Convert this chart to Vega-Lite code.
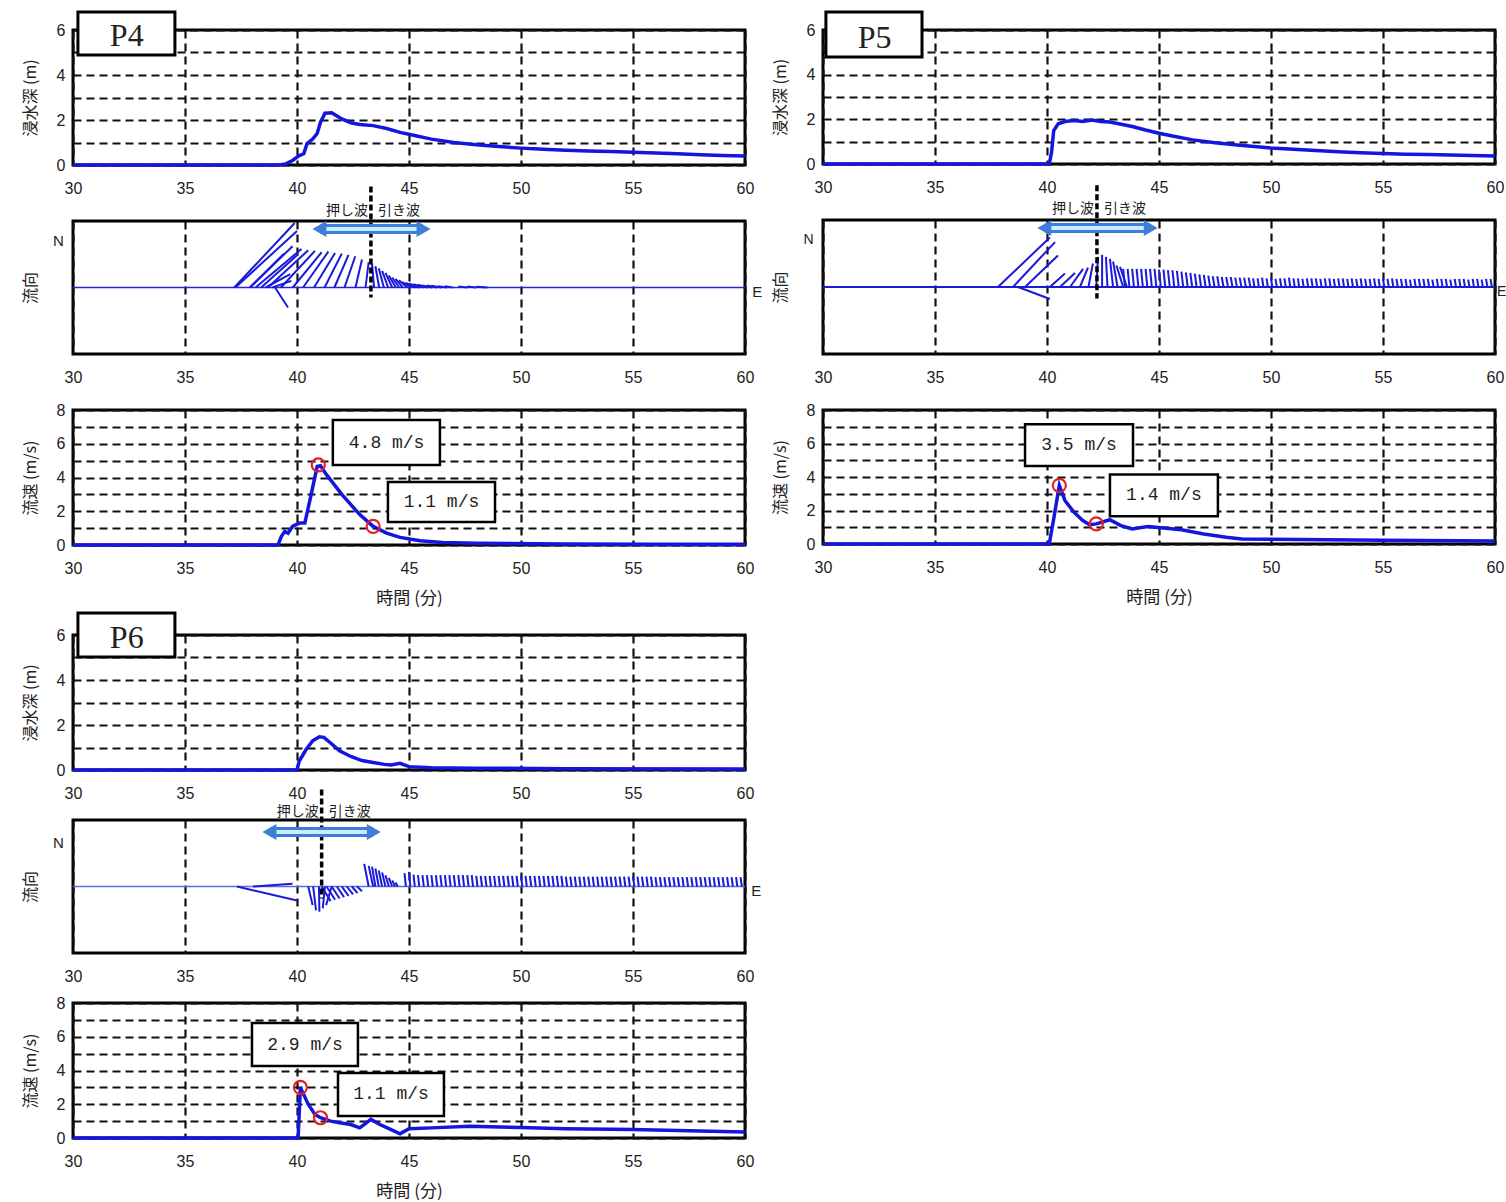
{
"$schema": "https://vega.github.io/schema/vega-lite/v6.json",
"background": "white",
"padding": {"left": 20, "top": 8, "right": 0, "bottom": 0},
"config": {
  "view": {"stroke": "black", "strokeWidth": 3},
  "axis": {"labelFont": "Liberation Sans", "labelFontSize": 16, "labelColor": "#222", "titleFont": "Noto Sans CJK JP", "titleFontSize": 16, "titleFontWeight": "normal", "titleColor": "#222", "domain": false, "ticks": false, "gridColor": "#111", "gridOpacity": 1},
  "axisX": {"labelFlush": false}
},
"datasets": {
  "depth4": [{"t":30,"y":0},{"t":39.2,"y":0},{"t":39.5,"y":0.05},{"t":39.8,"y":0.2},{"t":40.1,"y":0.42},{"t":40.3,"y":0.5},{"t":40.45,"y":0.95},{"t":40.7,"y":1.15},{"t":40.9,"y":1.4},{"t":41.05,"y":1.9},{"t":41.25,"y":2.3},{"t":41.55,"y":2.32},{"t":41.75,"y":2.2},{"t":42.0,"y":2.05},{"t":42.4,"y":1.88},{"t":42.8,"y":1.8},{"t":43.4,"y":1.75},{"t":44.0,"y":1.62},{"t":44.6,"y":1.45},{"t":45.2,"y":1.32},{"t":46,"y":1.15},{"t":47,"y":1.0},{"t":48,"y":0.9},{"t":49,"y":0.82},{"t":50,"y":0.75},{"t":51,"y":0.7},{"t":52,"y":0.66},{"t":53,"y":0.62},{"t":54,"y":0.6},{"t":55,"y":0.57},{"t":56,"y":0.53},{"t":57,"y":0.5},{"t":58,"y":0.46},{"t":59,"y":0.42},{"t":60,"y":0.4}],
  "depth5": [{"t":30,"y":0},{"t":40.1,"y":0},{"t":40.2,"y":0.5},{"t":40.3,"y":1.5},{"t":40.5,"y":1.8},{"t":40.8,"y":1.9},{"t":41.2,"y":1.95},{"t":41.6,"y":1.9},{"t":42.0,"y":1.97},{"t":42.4,"y":1.9},{"t":42.8,"y":1.88},{"t":43.2,"y":1.8},{"t":43.8,"y":1.68},{"t":44.4,"y":1.52},{"t":45,"y":1.38},{"t":45.6,"y":1.25},{"t":46.5,"y":1.08},{"t":47.5,"y":0.95},{"t":48.5,"y":0.85},{"t":50,"y":0.72},{"t":51,"y":0.66},{"t":52,"y":0.6},{"t":53,"y":0.55},{"t":54,"y":0.5},{"t":55,"y":0.47},{"t":56,"y":0.44},{"t":57,"y":0.42},{"t":58,"y":0.4},{"t":59,"y":0.38},{"t":60,"y":0.36}],
  "depth6": [{"t":30,"y":0},{"t":40.0,"y":0},{"t":40.1,"y":0.4},{"t":40.4,"y":0.9},{"t":40.7,"y":1.3},{"t":41.0,"y":1.48},{"t":41.2,"y":1.45},{"t":41.5,"y":1.2},{"t":41.9,"y":0.85},{"t":42.4,"y":0.6},{"t":42.9,"y":0.42},{"t":43.4,"y":0.33},{"t":43.9,"y":0.25},{"t":44.2,"y":0.22},{"t":44.6,"y":0.3},{"t":45.0,"y":0.15},{"t":46,"y":0.1},{"t":48,"y":0.08},{"t":52,"y":0.06},{"t":60,"y":0.05}],
  "sp4": [{"t":30,"y":0},{"t":39.15,"y":0},{"t":39.3,"y":0.5},{"t":39.45,"y":0.8},{"t":39.6,"y":0.7},{"t":39.8,"y":1.1},{"t":40.1,"y":1.3},{"t":40.35,"y":1.3},{"t":40.6,"y":2.8},{"t":40.9,"y":4.65},{"t":41.05,"y":4.7},{"t":41.3,"y":4.2},{"t":42.0,"y":3.0},{"t":42.8,"y":1.8},{"t":43.4,"y":1.1},{"t":44.0,"y":0.7},{"t":44.6,"y":0.45},{"t":45.5,"y":0.25},{"t":46.5,"y":0.15},{"t":48,"y":0.1},{"t":52,"y":0.06},{"t":56,"y":0.05},{"t":60,"y":0.05}],
  "sp5": [{"t":30,"y":0},{"t":40.1,"y":0},{"t":40.3,"y":1.5},{"t":40.55,"y":3.5},{"t":40.8,"y":2.6},{"t":41.2,"y":1.9},{"t":41.6,"y":1.4},{"t":41.9,"y":1.15},{"t":42.2,"y":1.2},{"t":42.8,"y":1.45},{"t":43.3,"y":1.1},{"t":43.8,"y":0.9},{"t":44.5,"y":1.05},{"t":45.2,"y":0.95},{"t":46,"y":0.85},{"t":47,"y":0.6},{"t":48,"y":0.4},{"t":48.7,"y":0.3},{"t":50,"y":0.28},{"t":55,"y":0.22},{"t":60,"y":0.18}],
  "sp6": [{"t":30,"y":0},{"t":40.05,"y":0},{"t":40.15,"y":3.0},{"t":40.5,"y":2.0},{"t":40.8,"y":1.4},{"t":41.05,"y":1.2},{"t":41.5,"y":1.0},{"t":41.9,"y":0.9},{"t":42.4,"y":0.8},{"t":42.8,"y":0.6},{"t":43.3,"y":1.1},{"t":43.7,"y":0.8},{"t":44.2,"y":0.5},{"t":44.6,"y":0.25},{"t":45.0,"y":0.55},{"t":46,"y":0.6},{"t":47.7,"y":0.7},{"t":50,"y":0.62},{"t":52,"y":0.55},{"t":55,"y":0.5},{"t":58,"y":0.42},{"t":60,"y":0.35}],
  "vec4": [{"t":39.42,"e":37.9,"v":0.51},{"t":39.6,"e":39.02,"v":-0.3},{"t":39.7,"e":38.6,"v":0.2},{"t":39.75,"e":38.9,"v":0.1},{"t":39.8,"e":37.9,"v":0.62},{"t":39.9,"e":37.2,"v":0.97},{"t":40.0,"e":37.25,"v":0.85},{"t":40.05,"e":38.4,"v":0.5},{"t":40.2,"e":38.15,"v":0.58},{"t":40.5,"e":38.7,"v":0.56},{"t":40.8,"e":39.28,"v":0.55},{"t":41.1,"e":39.81,"v":0.53},{"t":41.4,"e":40.27,"v":0.54},{"t":41.7,"e":40.76,"v":0.52},{"t":42.0,"e":41.23,"v":0.51},{"t":42.3,"e":41.67,"v":0.49},{"t":42.6,"e":42.12,"v":0.47},{"t":42.9,"e":42.61,"v":0.42},{"t":43.2,"e":43.06,"v":0.38},{"t":43.35,"e":43.44,"v":0.36},{"t":43.5,"e":43.67,"v":0.32},{"t":43.65,"e":43.88,"v":0.29},{"t":43.8,"e":44.07,"v":0.25},{"t":43.95,"e":44.25,"v":0.22},{"t":44.1,"e":44.41,"v":0.18},{"t":44.25,"e":44.56,"v":0.15},{"t":44.4,"e":44.72,"v":0.13},{"t":44.55,"e":44.93,"v":0.11},{"t":44.7,"e":45.12,"v":0.08},{"t":44.85,"e":45.3,"v":0.07},{"t":45.0,"e":45.46,"v":0.06},{"t":45.2,"e":45.65,"v":0.05},{"t":45.4,"e":45.85,"v":0.04},{"t":45.6,"e":46.04,"v":0.03},{"t":45.8,"e":46.25,"v":0.03},{"t":46.0,"e":46.44,"v":0.026},{"t":46.3,"e":46.7,"v":0.02},{"t":46.6,"e":46.95,"v":0.02},{"t":47.2,"e":47.6,"v":0.015},{"t":47.6,"e":48.0,"v":0.015},{"t":48.0,"e":48.5,"v":0.01}],
  "vec5": [{"t":40.13,"e":38.71,"v":-0.18},{"t":40.13,"e":37.81,"v":0.74},{"t":40.36,"e":38.48,"v":0.67},{"t":40.49,"e":39.02,"v":0.47},{"t":40.8,"e":40.13,"v":0.2},{"t":41.25,"e":40.58,"v":0.21},{"t":41.61,"e":41.03,"v":0.27},{"t":41.83,"e":41.47,"v":0.29},{"t":42.05,"e":41.85,"v":0.35},{"t":42.28,"e":42.2,"v":0.45},{"t":42.46,"e":42.46,"v":0.48},{"t":42.63,"e":42.7,"v":0.45},{"t":42.81,"e":42.95,"v":0.42},{"t":42.95,"e":43.15,"v":0.38},{"t":43.1,"e":43.4,"v":0.32},{"t":43.26,"e":43.57,"v":0.3},
    {"t":43.4,"e":43.48,"v":0.27},{"t":43.6,"e":43.68,"v":0.27},{"t":43.8,"e":43.88,"v":0.27},{"t":44.0,"e":44.08,"v":0.27},{"t":44.2,"e":44.28,"v":0.27},{"t":44.4,"e":44.48,"v":0.27},{"t":44.6,"e":44.68,"v":0.27},{"t":44.8,"e":44.88,"v":0.27},{"t":45.0,"e":45.08,"v":0.26},{"t":45.2,"e":45.28,"v":0.26},{"t":45.4,"e":45.48,"v":0.25},{"t":45.6,"e":45.68,"v":0.25},{"t":45.8,"e":45.88,"v":0.24},{"t":46.0,"e":46.08,"v":0.23},{"t":46.2,"e":46.28,"v":0.22},{"t":46.4,"e":46.48,"v":0.21},{"t":46.6,"e":46.68,"v":0.2},{"t":46.8,"e":46.88,"v":0.19},{"t":47.0,"e":47.08,"v":0.18},{"t":47.2,"e":47.28,"v":0.17},{"t":47.4,"e":47.48,"v":0.16},{"t":47.6,"e":47.68,"v":0.16},{"t":47.8,"e":47.88,"v":0.15},{"t":48.0,"e":48.08,"v":0.15},{"t":48.2,"e":48.28,"v":0.15},{"t":48.4,"e":48.48,"v":0.14},{"t":48.6,"e":48.68,"v":0.14},{"t":48.8,"e":48.88,"v":0.14},{"t":49.0,"e":49.08,"v":0.14},
    {"t":49.2,"e":49.26,"v":0.13},{"t":49.4,"e":49.46,"v":0.13},{"t":49.6,"e":49.66,"v":0.14},{"t":49.8,"e":49.86,"v":0.13},{"t":50.0,"e":50.06,"v":0.13},{"t":50.2,"e":50.26,"v":0.12},{"t":50.4,"e":50.46,"v":0.13},{"t":50.6,"e":50.66,"v":0.13},{"t":50.8,"e":50.86,"v":0.14},{"t":51.0,"e":51.06,"v":0.13},{"t":51.2,"e":51.26,"v":0.13},{"t":51.4,"e":51.46,"v":0.12},{"t":51.6,"e":51.66,"v":0.13},{"t":51.8,"e":51.86,"v":0.13},{"t":52.0,"e":52.06,"v":0.13},{"t":52.2,"e":52.26,"v":0.12},{"t":52.4,"e":52.46,"v":0.13},{"t":52.6,"e":52.66,"v":0.13},{"t":52.8,"e":52.86,"v":0.12},{"t":53.0,"e":53.06,"v":0.13},{"t":53.2,"e":53.26,"v":0.13},{"t":53.4,"e":53.46,"v":0.12},{"t":53.6,"e":53.66,"v":0.13},{"t":53.8,"e":53.86,"v":0.12},{"t":54.0,"e":54.06,"v":0.13},{"t":54.2,"e":54.26,"v":0.12},{"t":54.4,"e":54.46,"v":0.12},{"t":54.6,"e":54.66,"v":0.13},{"t":54.8,"e":54.86,"v":0.12},
    {"t":55.0,"e":55.06,"v":0.12},{"t":55.2,"e":55.26,"v":0.12},{"t":55.4,"e":55.46,"v":0.13},{"t":55.6,"e":55.66,"v":0.12},{"t":55.8,"e":55.86,"v":0.12},{"t":56.0,"e":56.06,"v":0.12},{"t":56.2,"e":56.26,"v":0.11},{"t":56.4,"e":56.46,"v":0.12},{"t":56.6,"e":56.66,"v":0.12},{"t":56.8,"e":56.86,"v":0.12},{"t":57.0,"e":57.06,"v":0.12},{"t":57.2,"e":57.26,"v":0.11},{"t":57.4,"e":57.46,"v":0.12},{"t":57.6,"e":57.66,"v":0.12},{"t":57.8,"e":57.86,"v":0.12},{"t":58.0,"e":58.06,"v":0.11},{"t":58.2,"e":58.26,"v":0.12},{"t":58.4,"e":58.46,"v":0.12},{"t":58.6,"e":58.66,"v":0.12},{"t":58.8,"e":58.86,"v":0.11},{"t":59.0,"e":59.06,"v":0.12},{"t":59.2,"e":59.26,"v":0.12},{"t":59.4,"e":59.46,"v":0.11},{"t":59.6,"e":59.66,"v":0.12},{"t":59.8,"e":59.86,"v":0.12}],
  "vec6": [{"t":39.8,"e":38.04,"v":0.04},{"t":40.0,"e":37.32,"v":-0.21},{"t":40.7,"e":40.5,"v":-0.28},{"t":40.85,"e":40.72,"v":-0.36},{"t":41.0,"e":40.98,"v":-0.38},{"t":41.15,"e":41.25,"v":-0.33},{"t":41.3,"e":41.55,"v":-0.28},{"t":41.5,"e":41.1,"v":-0.22},{"t":41.7,"e":41.32,"v":-0.2},{"t":41.9,"e":41.55,"v":-0.18},{"t":42.1,"e":41.78,"v":-0.16},{"t":42.3,"e":42.0,"v":-0.14},{"t":42.5,"e":42.22,"v":-0.12},{"t":42.7,"e":42.45,"v":-0.1},{"t":42.9,"e":42.68,"v":-0.07},
    {"t":43.0,"e":43.2,"v":0.34},{"t":43.2,"e":43.4,"v":0.31},{"t":43.35,"e":43.5,"v":0.3},{"t":43.5,"e":43.65,"v":0.27},{"t":43.65,"e":43.8,"v":0.24},{"t":43.8,"e":43.95,"v":0.21},{"t":43.95,"e":44.1,"v":0.17},{"t":44.1,"e":44.25,"v":0.13},{"t":44.25,"e":44.38,"v":0.09},{"t":44.4,"e":44.5,"v":0.06},
    {"t":44.8,"e":44.86,"v":0.2},{"t":45.0,"e":45.06,"v":0.22},{"t":45.2,"e":45.26,"v":0.18},{"t":45.4,"e":45.46,"v":0.17},{"t":45.6,"e":45.66,"v":0.17},{"t":45.8,"e":45.86,"v":0.17},{"t":46.0,"e":46.06,"v":0.17},{"t":46.2,"e":46.26,"v":0.17},{"t":46.4,"e":46.46,"v":0.17},{"t":46.6,"e":46.66,"v":0.17},{"t":46.8,"e":46.86,"v":0.17},{"t":47.0,"e":47.06,"v":0.17},{"t":47.2,"e":47.26,"v":0.17},{"t":47.4,"e":47.46,"v":0.17},{"t":47.6,"e":47.66,"v":0.17},{"t":47.8,"e":47.86,"v":0.17},
    {"t":48.0,"e":48.06,"v":0.16},{"t":48.2,"e":48.26,"v":0.16},{"t":48.4,"e":48.46,"v":0.16},{"t":48.6,"e":48.66,"v":0.16},{"t":48.8,"e":48.86,"v":0.16},{"t":49.0,"e":49.06,"v":0.16},{"t":49.2,"e":49.26,"v":0.16},{"t":49.4,"e":49.46,"v":0.16},{"t":49.6,"e":49.66,"v":0.16},{"t":49.8,"e":49.86,"v":0.16},{"t":50.0,"e":50.06,"v":0.16},{"t":50.2,"e":50.26,"v":0.16},{"t":50.4,"e":50.46,"v":0.16},{"t":50.6,"e":50.66,"v":0.16},{"t":50.8,"e":50.86,"v":0.16},{"t":51.0,"e":51.06,"v":0.16},{"t":51.2,"e":51.26,"v":0.16},{"t":51.4,"e":51.46,"v":0.16},{"t":51.6,"e":51.66,"v":0.16},{"t":51.8,"e":51.86,"v":0.16},
    {"t":52.0,"e":52.06,"v":0.15},{"t":52.2,"e":52.26,"v":0.15},{"t":52.4,"e":52.46,"v":0.15},{"t":52.6,"e":52.66,"v":0.15},{"t":52.8,"e":52.86,"v":0.15},{"t":53.0,"e":53.06,"v":0.15},{"t":53.2,"e":53.26,"v":0.15},{"t":53.4,"e":53.46,"v":0.15},{"t":53.6,"e":53.66,"v":0.15},{"t":53.8,"e":53.86,"v":0.15},{"t":54.0,"e":54.06,"v":0.15},{"t":54.2,"e":54.26,"v":0.15},{"t":54.4,"e":54.46,"v":0.15},{"t":54.6,"e":54.66,"v":0.15},{"t":54.8,"e":54.86,"v":0.15},{"t":55.0,"e":55.06,"v":0.15},{"t":55.2,"e":55.26,"v":0.15},{"t":55.4,"e":55.46,"v":0.15},{"t":55.6,"e":55.66,"v":0.15},{"t":55.8,"e":55.86,"v":0.15},
    {"t":56.0,"e":56.06,"v":0.14},{"t":56.2,"e":56.26,"v":0.14},{"t":56.4,"e":56.46,"v":0.14},{"t":56.6,"e":56.66,"v":0.14},{"t":56.8,"e":56.86,"v":0.14},{"t":57.0,"e":57.06,"v":0.14},{"t":57.2,"e":57.26,"v":0.14},{"t":57.4,"e":57.46,"v":0.14},{"t":57.6,"e":57.66,"v":0.14},{"t":57.8,"e":57.86,"v":0.14},{"t":58.0,"e":58.06,"v":0.14},{"t":58.2,"e":58.26,"v":0.14},{"t":58.4,"e":58.46,"v":0.14},{"t":58.6,"e":58.66,"v":0.14},{"t":58.8,"e":58.86,"v":0.14},{"t":59.0,"e":59.06,"v":0.14},{"t":59.2,"e":59.26,"v":0.14},{"t":59.4,"e":59.46,"v":0.14},{"t":59.6,"e":59.66,"v":0.14},{"t":59.8,"e":59.86,"v":0.14}]
},
"hconcat": [
 {"vconcat": [
   {"vconcat": [
     {"width": 672, "height": 135, "layer": [
       {"data": {"name": "depth4"}, "mark": {"type": "line", "color": "#1515e0", "strokeWidth": 3.5},
        "encoding": {"x": {"field": "t", "type": "quantitative", "scale": {"domain": [30, 60], "nice": false, "zero": false}, "axis": {"values": [30,35,40,45,50,55,60], "grid": true, "gridDash": [8,5], "gridWidth": 2.2, "labelPadding": 15, "title": null}},
                     "y": {"field": "y", "type": "quantitative", "scale": {"domain": [0, 6], "nice": false}, "axis": {"values": [0,1,2,3,4,5,6], "tickCount": 20, "format": "d", "labelExpr": "datum.value % 2 == 0 ? datum.label : ''", "grid": true, "gridDash": [8,5], "gridWidth": 1.8, "labelPadding": 8, "title": "浸水深 (m)", "titlePadding": 18}}}},
       {"data": {"values": [{"x1": 30.22, "x2": 34.55, "y1": 4.89, "y2": 6.8, "tx": 32.4, "ty": 5.72, "s": "P4"}]}, "layer": [
         {"mark": {"type": "rect", "fill": "white", "stroke": "black", "strokeWidth": 3}, "encoding": {"x": {"field": "x1", "type": "quantitative"}, "x2": {"field": "x2"}, "y": {"field": "y1", "type": "quantitative"}, "y2": {"field": "y2"}}},
         {"mark": {"type": "text", "font": "Liberation Serif", "fontSize": 32, "color": "#222", "align": "center", "baseline": "middle"}, "encoding": {"x": {"field": "tx", "type": "quantitative"}, "y": {"field": "ty", "type": "quantitative"}, "text": {"field": "s"}}}
       ]}
     ]},
     {"width": 672, "height": 133, "layer": [
       {"data": {"values": [{"v": 0}]}, "mark": {"type": "rule", "color": "#2424d8", "strokeWidth": 1.5}, "encoding": {"y": {"field": "v", "type": "quantitative"}}},
       {"data": {"name": "vec4"}, "mark": {"type": "rule", "color": "#1a1ad8", "strokeWidth": 2},
        "encoding": {"x": {"field": "t", "type": "quantitative", "scale": {"domain": [30, 60], "nice": false, "zero": false}, "axis": {"values": [30,35,40,45,50,55,60], "grid": true, "gridDash": [8,5], "gridWidth": 2.2, "labelPadding": 15, "title": null}},
                     "x2": {"field": "e"},
                     "y": {"field": "v", "type": "quantitative", "scale": {"domain": [-1, 1], "nice": false}, "axis": {"labels": false, "grid": false, "title": "流向", "titlePadding": 35}},
                     "y2": {"datum": 0}}},
       {"data": {"values": [{"t": 43.3, "v1": 1.52, "v2": -0.15}]}, "mark": {"type": "rule", "color": "black", "strokeWidth": 3.5, "strokeDash": [6, 3]}, "encoding": {"x": {"field": "t", "type": "quantitative"}, "y": {"field": "v1", "type": "quantitative"}, "y2": {"field": "v2"}}},
       {"data": {"values": [{"a1": 41.05, "a2": 45.6, "v": 0.88}]}, "layer": [
         {"mark": {"type": "rule", "color": "#3d7fd8", "strokeWidth": 10}, "encoding": {"x": {"field": "a1", "type": "quantitative"}, "x2": {"field": "a2"}, "y": {"field": "v", "type": "quantitative"}}},
         {"mark": {"type": "rule", "color": "#c8ecff", "strokeWidth": 4}, "encoding": {"x": {"field": "a1", "type": "quantitative"}, "x2": {"field": "a2"}, "y": {"field": "v", "type": "quantitative"}}}
       ]},
       {"data": {"values": [{"t": 41.0, "v": 0.88, "s": "triangle-left"}, {"t": 45.65, "v": 0.88, "s": "triangle-right"}]}, "mark": {"type": "point", "filled": true, "color": "#3d7fd8", "opacity": 1, "size": 260}, "encoding": {"x": {"field": "t", "type": "quantitative"}, "y": {"field": "v", "type": "quantitative"}, "shape": {"field": "s", "type": "nominal", "scale": null}}},
       {"data": {"values": [{"t": 43.3, "v": 1.15, "s": "押し波"}]}, "mark": {"type": "text", "font": "Noto Sans CJK JP", "fontSize": 14, "color": "#222", "align": "right", "baseline": "middle", "dx": -3}, "encoding": {"x": {"field": "t", "type": "quantitative"}, "y": {"field": "v", "type": "quantitative"}, "text": {"field": "s"}}},
       {"data": {"values": [{"t": 43.3, "v": 1.15, "s": "引き波"}]}, "mark": {"type": "text", "font": "Noto Sans CJK JP", "fontSize": 14, "color": "#222", "align": "left", "baseline": "middle", "dx": 7}, "encoding": {"x": {"field": "t", "type": "quantitative"}, "y": {"field": "v", "type": "quantitative"}, "text": {"field": "s"}}},
       {"data": {"values": [{"t": 29.35, "v": 0.7, "s": "N"}, {"t": 60.55, "v": -0.07, "s": "E"}]}, "mark": {"type": "text", "font": "Liberation Sans", "fontSize": 15, "color": "#222", "align": "center", "baseline": "middle"}, "encoding": {"x": {"field": "t", "type": "quantitative"}, "y": {"field": "v", "type": "quantitative"}, "text": {"field": "s"}}}
     ]},
     {"width": 672, "height": 135, "layer": [
       {"data": {"name": "sp4"}, "mark": {"type": "line", "color": "#1515e0", "strokeWidth": 3.5},
        "encoding": {"x": {"field": "t", "type": "quantitative", "scale": {"domain": [30, 60], "nice": false, "zero": false}, "axis": {"values": [30,35,40,45,50,55,60], "grid": true, "gridDash": [8,5], "gridWidth": 2.2, "labelPadding": 15, "title": "時間 (分)", "titlePadding": 14, "titleFontSize": 17}},
                     "y": {"field": "y", "type": "quantitative", "scale": {"domain": [0, 8], "nice": false}, "axis": {"values": [0,1,2,3,4,5,6,7,8], "tickCount": 20, "format": "d", "labelExpr": "datum.value % 2 == 0 ? datum.label : ''", "grid": true, "gridDash": [8,5], "gridWidth": 1.8, "labelPadding": 8, "title": "流速 (m/s)", "titlePadding": 18}}}},
       {"data": {"values": [{"t": 40.95, "y": 4.75}, {"t": 43.4, "y": 1.1}]}, "mark": {"type": "point", "shape": "circle", "filled": false, "color": "#e52020", "strokeWidth": 2.2, "size": 170, "opacity": 1}, "encoding": {"x": {"field": "t", "type": "quantitative"}, "y": {"field": "y", "type": "quantitative"}}},
       {"data": {"values": [{"x1": 41.6, "x2": 46.38, "y1": 4.74, "y2": 7.41, "tx": 44.0, "ty": 6.07, "s": "4.8 m/s"}, {"x1": 44.06, "x2": 48.84, "y1": 1.36, "y2": 3.73, "tx": 46.45, "ty": 2.55, "s": "1.1 m/s"}]}, "layer": [
         {"mark": {"type": "rect", "fill": "white", "stroke": "black", "strokeWidth": 2.5}, "encoding": {"x": {"field": "x1", "type": "quantitative"}, "x2": {"field": "x2"}, "y": {"field": "y1", "type": "quantitative"}, "y2": {"field": "y2"}}},
         {"mark": {"type": "text", "font": "Liberation Mono", "fontSize": 18, "color": "#222", "align": "center", "baseline": "middle"}, "encoding": {"x": {"field": "tx", "type": "quantitative"}, "y": {"field": "ty", "type": "quantitative"}, "text": {"field": "s"}}}
       ]}
     ]}
   ], "spacing": 56, "bounds": "flush"},
   {"vconcat": [
     {"width": 672, "height": 135, "layer": [
       {"data": {"name": "depth6"}, "mark": {"type": "line", "color": "#1515e0", "strokeWidth": 3.5},
        "encoding": {"x": {"field": "t", "type": "quantitative", "scale": {"domain": [30, 60], "nice": false, "zero": false}, "axis": {"values": [30,35,40,45,50,55,60], "grid": true, "gridDash": [8,5], "gridWidth": 2.2, "labelPadding": 15, "title": null}},
                     "y": {"field": "y", "type": "quantitative", "scale": {"domain": [0, 6], "nice": false}, "axis": {"values": [0,1,2,3,4,5,6], "tickCount": 20, "format": "d", "labelExpr": "datum.value % 2 == 0 ? datum.label : ''", "grid": true, "gridDash": [8,5], "gridWidth": 1.8, "labelPadding": 8, "title": "浸水深 (m)", "titlePadding": 18}}}},
       {"data": {"values": [{"x1": 30.22, "x2": 34.55, "y1": 5.02, "y2": 6.98, "tx": 32.4, "ty": 5.87, "s": "P6"}]}, "layer": [
         {"mark": {"type": "rect", "fill": "white", "stroke": "black", "strokeWidth": 3}, "encoding": {"x": {"field": "x1", "type": "quantitative"}, "x2": {"field": "x2"}, "y": {"field": "y1", "type": "quantitative"}, "y2": {"field": "y2"}}},
         {"mark": {"type": "text", "font": "Liberation Serif", "fontSize": 32, "color": "#222", "align": "center", "baseline": "middle"}, "encoding": {"x": {"field": "tx", "type": "quantitative"}, "y": {"field": "ty", "type": "quantitative"}, "text": {"field": "s"}}}
       ]}
     ]},
     {"width": 672, "height": 133, "layer": [
       {"data": {"values": [{"v": 0}]}, "mark": {"type": "rule", "color": "#5a6ee0", "strokeWidth": 1.5}, "encoding": {"y": {"field": "v", "type": "quantitative"}}},
       {"data": {"name": "vec6"}, "mark": {"type": "rule", "color": "#1a1ad8", "strokeWidth": 2},
        "encoding": {"x": {"field": "t", "type": "quantitative", "scale": {"domain": [30, 60], "nice": false, "zero": false}, "axis": {"values": [30,35,40,45,50,55,60], "grid": true, "gridDash": [8,5], "gridWidth": 2.2, "labelPadding": 15, "title": null}},
                     "x2": {"field": "e"},
                     "y": {"field": "v", "type": "quantitative", "scale": {"domain": [-1, 1], "nice": false}, "axis": {"labels": false, "grid": false, "title": "流向", "titlePadding": 35}},
                     "y2": {"datum": 0}}},
       {"data": {"values": [{"t": 41.1, "v1": 1.46, "v2": -0.18}]}, "mark": {"type": "rule", "color": "black", "strokeWidth": 3.5, "strokeDash": [6, 3]}, "encoding": {"x": {"field": "t", "type": "quantitative"}, "y": {"field": "v1", "type": "quantitative"}, "y2": {"field": "v2"}}},
       {"data": {"values": [{"a1": 38.8, "a2": 43.4, "v": 0.82}]}, "layer": [
         {"mark": {"type": "rule", "color": "#3d7fd8", "strokeWidth": 10}, "encoding": {"x": {"field": "a1", "type": "quantitative"}, "x2": {"field": "a2"}, "y": {"field": "v", "type": "quantitative"}}},
         {"mark": {"type": "rule", "color": "#c8ecff", "strokeWidth": 4}, "encoding": {"x": {"field": "a1", "type": "quantitative"}, "x2": {"field": "a2"}, "y": {"field": "v", "type": "quantitative"}}}
       ]},
       {"data": {"values": [{"t": 38.77, "v": 0.82, "s": "triangle-left"}, {"t": 43.43, "v": 0.82, "s": "triangle-right"}]}, "mark": {"type": "point", "filled": true, "color": "#3d7fd8", "opacity": 1, "size": 260}, "encoding": {"x": {"field": "t", "type": "quantitative"}, "y": {"field": "v", "type": "quantitative"}, "shape": {"field": "s", "type": "nominal", "scale": null}}},
       {"data": {"values": [{"t": 41.1, "v": 1.12, "s": "押し波"}]}, "mark": {"type": "text", "font": "Noto Sans CJK JP", "fontSize": 14, "color": "#222", "align": "right", "baseline": "middle", "dx": -3}, "encoding": {"x": {"field": "t", "type": "quantitative"}, "y": {"field": "v", "type": "quantitative"}, "text": {"field": "s"}}},
       {"data": {"values": [{"t": 41.1, "v": 1.12, "s": "引き波"}]}, "mark": {"type": "text", "font": "Noto Sans CJK JP", "fontSize": 14, "color": "#222", "align": "left", "baseline": "middle", "dx": 7}, "encoding": {"x": {"field": "t", "type": "quantitative"}, "y": {"field": "v", "type": "quantitative"}, "text": {"field": "s"}}},
       {"data": {"values": [{"t": 29.35, "v": 0.66, "s": "N"}, {"t": 60.5, "v": -0.07, "s": "E"}]}, "mark": {"type": "text", "font": "Liberation Sans", "fontSize": 15, "color": "#222", "align": "center", "baseline": "middle"}, "encoding": {"x": {"field": "t", "type": "quantitative"}, "y": {"field": "v", "type": "quantitative"}, "text": {"field": "s"}}}
     ]},
     {"width": 672, "height": 135, "layer": [
       {"data": {"name": "sp6"}, "mark": {"type": "line", "color": "#1515e0", "strokeWidth": 3.5},
        "encoding": {"x": {"field": "t", "type": "quantitative", "scale": {"domain": [30, 60], "nice": false, "zero": false}, "axis": {"values": [30,35,40,45,50,55,60], "grid": true, "gridDash": [8,5], "gridWidth": 2.2, "labelPadding": 15, "title": "時間 (分)", "titlePadding": 14, "titleFontSize": 17}},
                     "y": {"field": "y", "type": "quantitative", "scale": {"domain": [0, 8], "nice": false}, "axis": {"values": [0,1,2,3,4,5,6,7,8], "tickCount": 20, "format": "d", "labelExpr": "datum.value % 2 == 0 ? datum.label : ''", "grid": true, "gridDash": [8,5], "gridWidth": 1.8, "labelPadding": 8, "title": "流速 (m/s)", "titlePadding": 18}}}},
       {"data": {"values": [{"t": 40.15, "y": 3.0}, {"t": 41.05, "y": 1.2}]}, "mark": {"type": "point", "shape": "circle", "filled": false, "color": "#e52020", "strokeWidth": 2.2, "size": 170, "opacity": 1}, "encoding": {"x": {"field": "t", "type": "quantitative"}, "y": {"field": "y", "type": "quantitative"}}},
       {"data": {"values": [{"x1": 37.99, "x2": 42.72, "y1": 4.27, "y2": 6.81, "tx": 40.36, "ty": 5.54, "s": "2.9 m/s"}, {"x1": 41.83, "x2": 46.56, "y1": 1.3, "y2": 3.85, "tx": 44.2, "ty": 2.58, "s": "1.1 m/s"}]}, "layer": [
         {"mark": {"type": "rect", "fill": "white", "stroke": "black", "strokeWidth": 2.5}, "encoding": {"x": {"field": "x1", "type": "quantitative"}, "x2": {"field": "x2"}, "y": {"field": "y1", "type": "quantitative"}, "y2": {"field": "y2"}}},
         {"mark": {"type": "text", "font": "Liberation Mono", "fontSize": 18, "color": "#222", "align": "center", "baseline": "middle"}, "encoding": {"x": {"field": "tx", "type": "quantitative"}, "y": {"field": "ty", "type": "quantitative"}, "text": {"field": "s"}}}
       ]}
     ]}
   ], "spacing": 50, "bounds": "flush"}
 ], "spacing": 1},
 {"vconcat": [
   {"width": 672, "height": 134, "layer": [
     {"data": {"name": "depth5"}, "mark": {"type": "line", "color": "#1515e0", "strokeWidth": 3.5},
      "encoding": {"x": {"field": "t", "type": "quantitative", "scale": {"domain": [30, 60], "nice": false, "zero": false}, "axis": {"values": [30,35,40,45,50,55,60], "grid": true, "gridDash": [8,5], "gridWidth": 2.2, "labelPadding": 15, "title": null}},
                   "y": {"field": "y", "type": "quantitative", "scale": {"domain": [0, 6], "nice": false}, "axis": {"values": [0,1,2,3,4,5,6], "tickCount": 20, "format": "d", "labelExpr": "datum.value % 2 == 0 ? datum.label : ''", "grid": true, "gridDash": [8,5], "gridWidth": 1.8, "labelPadding": 8, "title": "浸水深 (m)", "titlePadding": 18}}}},
     {"data": {"values": [{"x1": 30.13, "x2": 34.42, "y1": 4.79, "y2": 6.81, "tx": 32.3, "ty": 5.64, "s": "P5"}]}, "layer": [
       {"mark": {"type": "rect", "fill": "white", "stroke": "black", "strokeWidth": 3}, "encoding": {"x": {"field": "x1", "type": "quantitative"}, "x2": {"field": "x2"}, "y": {"field": "y1", "type": "quantitative"}, "y2": {"field": "y2"}}},
       {"mark": {"type": "text", "font": "Liberation Serif", "fontSize": 32, "color": "#222", "align": "center", "baseline": "middle"}, "encoding": {"x": {"field": "tx", "type": "quantitative"}, "y": {"field": "ty", "type": "quantitative"}, "text": {"field": "s"}}}
     ]}
   ]},
   {"width": 672, "height": 134, "layer": [
     {"data": {"values": [{"v": 0}]}, "mark": {"type": "rule", "color": "#1a1ad8", "strokeWidth": 2}, "encoding": {"y": {"field": "v", "type": "quantitative"}}},
     {"data": {"name": "vec5"}, "mark": {"type": "rule", "color": "#1a1ad8", "strokeWidth": 2},
      "encoding": {"x": {"field": "t", "type": "quantitative", "scale": {"domain": [30, 60], "nice": false, "zero": false}, "axis": {"values": [30,35,40,45,50,55,60], "grid": true, "gridDash": [8,5], "gridWidth": 2.2, "labelPadding": 15, "title": null}},
                   "x2": {"field": "e"},
                   "y": {"field": "v", "type": "quantitative", "scale": {"domain": [-1, 1], "nice": false}, "axis": {"labels": false, "grid": false, "title": "流向", "titlePadding": 35}},
                   "y2": {"datum": 0}}},
     {"data": {"values": [{"t": 42.23, "v1": 1.52, "v2": -0.17}]}, "mark": {"type": "rule", "color": "black", "strokeWidth": 3.5, "strokeDash": [6, 3]}, "encoding": {"x": {"field": "t", "type": "quantitative"}, "y": {"field": "v1", "type": "quantitative"}, "y2": {"field": "v2"}}},
     {"data": {"values": [{"a1": 39.91, "a2": 44.6, "v": 0.88}]}, "layer": [
       {"mark": {"type": "rule", "color": "#3d7fd8", "strokeWidth": 10}, "encoding": {"x": {"field": "a1", "type": "quantitative"}, "x2": {"field": "a2"}, "y": {"field": "v", "type": "quantitative"}}},
       {"mark": {"type": "rule", "color": "#c8ecff", "strokeWidth": 4}, "encoding": {"x": {"field": "a1", "type": "quantitative"}, "x2": {"field": "a2"}, "y": {"field": "v", "type": "quantitative"}}}
     ]},
     {"data": {"values": [{"t": 39.88, "v": 0.88, "s": "triangle-left"}, {"t": 44.63, "v": 0.88, "s": "triangle-right"}]}, "mark": {"type": "point", "filled": true, "color": "#3d7fd8", "opacity": 1, "size": 260}, "encoding": {"x": {"field": "t", "type": "quantitative"}, "y": {"field": "v", "type": "quantitative"}, "shape": {"field": "s", "type": "nominal", "scale": null}}},
     {"data": {"values": [{"t": 42.23, "v": 1.17, "s": "押し波"}]}, "mark": {"type": "text", "font": "Noto Sans CJK JP", "fontSize": 14, "color": "#222", "align": "right", "baseline": "middle", "dx": -3}, "encoding": {"x": {"field": "t", "type": "quantitative"}, "y": {"field": "v", "type": "quantitative"}, "text": {"field": "s"}}},
     {"data": {"values": [{"t": 42.23, "v": 1.17, "s": "引き波"}]}, "mark": {"type": "text", "font": "Noto Sans CJK JP", "fontSize": 14, "color": "#222", "align": "left", "baseline": "middle", "dx": 7}, "encoding": {"x": {"field": "t", "type": "quantitative"}, "y": {"field": "v", "type": "quantitative"}, "text": {"field": "s"}}},
     {"data": {"values": [{"t": 29.35, "v": 0.7, "s": "N"}, {"t": 60.3, "v": -0.07, "s": "E"}]}, "mark": {"type": "text", "font": "Liberation Sans", "fontSize": 14, "color": "#222", "align": "center", "baseline": "middle"}, "encoding": {"x": {"field": "t", "type": "quantitative"}, "y": {"field": "v", "type": "quantitative"}, "text": {"field": "s"}}}
   ]},
   {"width": 672, "height": 134, "layer": [
     {"data": {"name": "sp5"}, "mark": {"type": "line", "color": "#1515e0", "strokeWidth": 3.5},
      "encoding": {"x": {"field": "t", "type": "quantitative", "scale": {"domain": [30, 60], "nice": false, "zero": false}, "axis": {"values": [30,35,40,45,50,55,60], "grid": true, "gridDash": [8,5], "gridWidth": 2.2, "labelPadding": 15, "title": "時間 (分)", "titlePadding": 14, "titleFontSize": 17}},
                   "y": {"field": "y", "type": "quantitative", "scale": {"domain": [0, 8], "nice": false}, "axis": {"values": [0,1,2,3,4,5,6,7,8], "tickCount": 20, "format": "d", "labelExpr": "datum.value % 2 == 0 ? datum.label : ''", "grid": true, "gridDash": [8,5], "gridWidth": 1.8, "labelPadding": 8, "title": "流速 (m/s)", "titlePadding": 18}}}},
     {"data": {"values": [{"t": 40.55, "y": 3.5}, {"t": 42.2, "y": 1.2}]}, "mark": {"type": "point", "shape": "circle", "filled": false, "color": "#e52020", "strokeWidth": 2.2, "size": 170, "opacity": 1}, "encoding": {"x": {"field": "t", "type": "quantitative"}, "y": {"field": "y", "type": "quantitative"}}},
     {"data": {"values": [{"x1": 39.02, "x2": 43.84, "y1": 4.65, "y2": 7.15, "tx": 41.43, "ty": 5.9, "s": "3.5 m/s"}, {"x1": 42.81, "x2": 47.63, "y1": 1.65, "y2": 4.15, "tx": 45.22, "ty": 2.9, "s": "1.4 m/s"}]}, "layer": [
       {"mark": {"type": "rect", "fill": "white", "stroke": "black", "strokeWidth": 2.5}, "encoding": {"x": {"field": "x1", "type": "quantitative"}, "x2": {"field": "x2"}, "y": {"field": "y1", "type": "quantitative"}, "y2": {"field": "y2"}}},
       {"mark": {"type": "text", "font": "Liberation Mono", "fontSize": 18, "color": "#222", "align": "center", "baseline": "middle"}, "encoding": {"x": {"field": "tx", "type": "quantitative"}, "y": {"field": "ty", "type": "quantitative"}, "text": {"field": "s"}}}
     ]}
   ]}
 ], "spacing": 56, "bounds": "flush"}
],
"spacing": 6
}
